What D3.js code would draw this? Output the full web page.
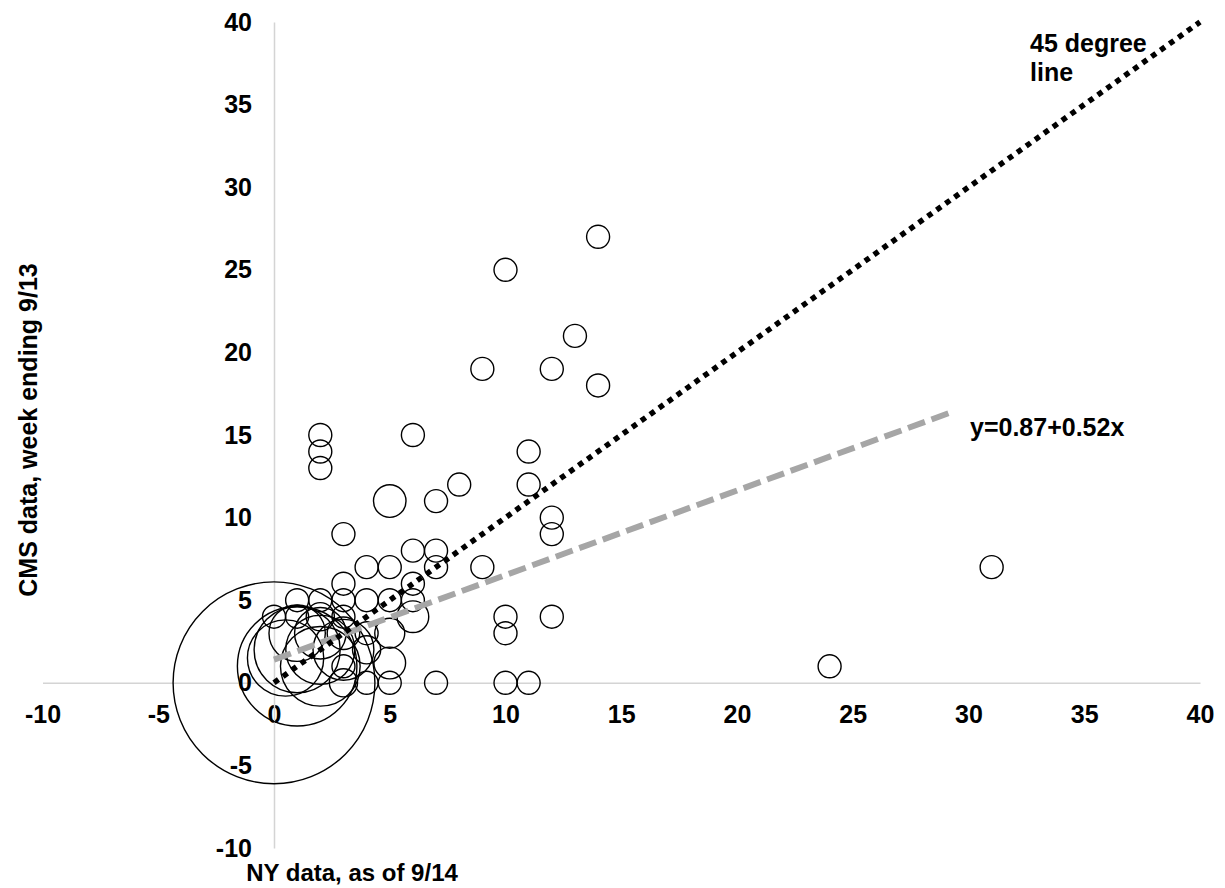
<!DOCTYPE html>
<html>
<head>
<meta charset="utf-8">
<script src="https://cdn.jsdelivr.net/npm/d3@7"></script>
<style>
  body { margin: 0; background: #fff; }
  text { font-family: "Liberation Sans", Arial, sans-serif; font-weight: bold; }
</style>
</head>
<body>
<script>
// bubble data: NY count, CMS count, relative bubble size
const nyValues  = [2, 2, 2, 6, 5, 7, 8, 3, 6, 7, 14, 10, 13, 9, 12, 14, 11, 11, 12, 12,
                   9, 7, 5, 4, 3, 6, 3, 4, 5, 6, 6, 5, 5, 10, 10, 12, 10, 11, 7, 5, 4, 4, 24, 31,
                   0, 1, 1, 2, 0.5, 2, 3, 1, 2, 3, 0, 1, 1, 2, 3, 2, 3, 4, 3];
const cmsValues = [15, 14, 13, 15, 11, 11, 12, 9, 8, 8, 27, 25, 21, 19, 19, 18, 14, 12, 10, 9,
                   7, 7, 7, 7, 6, 6, 5, 5, 5, 5, 4, 3, 1.2, 4, 3, 4, 0, 0, 0, 0, 0, 3, 1, 7,
                   0, 1, 2, 1, 1.5, 2, 2, 3, 3, 3, 4, 5, 4, 4, 4, 5, 1, 2, 0];
const sizes     = [1, 1, 1, 1, 2, 1, 1, 1, 1, 1, 1, 1, 1, 1, 1, 1, 1, 1, 1, 1,
                   1, 1, 1, 1, 1, 1, 1, 1, 1, 1, 1.9, 1.7, 1.9, 1, 1, 1, 1, 1, 1, 1, 1, 1, 1, 1,
                   77, 27, 14, 12, 11, 9, 7, 6, 5, 2, 1, 1, 1, 1.5, 1, 1, 1, 1.5, 1.5];

const tickValues = [-10, -5, 0, 5, 10, 15, 20, 25, 30, 35, 40];
const diagonal = [[0, 0], [40, 40]];
const trendline = [[0, 1.4], [29.3, 16.4]];

const width = 1225, height = 888;

const svg = d3.select('body')
    .append('svg')
    .attr('width', width)
    .attr('height', height);

const xScale = d3.scaleLinear().domain([-10, 40]).range([42.5, 1200]);
const yScale = d3.scaleLinear().domain([-10, 40]).range([848, 22]);
const rScale = d3.scaleSqrt().domain([0, 1]).range([0, 11.5]);

// axes cross at zero, plain hyphen for negatives
const xAxis = svg.append('g')
    .attr('transform', `translate(0, ${yScale(0)})`)
    .call(d3.axisBottom(xScale).tickValues(tickValues).tickFormat(d => String(d))
      .tickSize(0).tickPadding(22));

const yAxis = svg.append('g')
    .attr('transform', `translate(${xScale(0)}, 0)`)
    .call(d3.axisLeft(yScale).tickValues(tickValues).tickFormat(d => String(d))
      .tickSize(0).tickPadding(22));

[xAxis, yAxis].forEach(ax => {
  ax.select('.domain').attr('stroke', '#d4d4d4').attr('stroke-width', 1.5);
  ax.selectAll('text').attr('font-size', 25).attr('fill', '#000')
    .style('font-family', '"Liberation Sans", Arial, sans-serif').style('font-weight', 'bold');
});

const points = nyValues.map((d, i) => ({x: d, y: cmsValues[i], s: sizes[i]}));

svg.append('g').selectAll('circle')
    .data(points)
    .enter()
    .append('circle')
    .attr('cx', d => xScale(d.x))
    .attr('cy', d => yScale(d.y))
    .attr('r', d => rScale(d.s))
    .attr('fill', 'none')
    .attr('stroke', '#000')
    .attr('stroke-width', 1.4);

const line = d3.line().x(d => xScale(d[0])).y(d => yScale(d[1]));

svg.append('path')
    .attr('d', line(trendline))
    .attr('fill', 'none')
    .attr('stroke', '#a6a6a6')
    .attr('stroke-width', 6)
    .attr('stroke-dasharray', '18 7');

svg.append('path')
    .attr('d', line(diagonal))
    .attr('fill', 'none')
    .attr('stroke', '#000')
    .attr('stroke-width', 5.5)
    .attr('stroke-dasharray', '5.5 5.5');

// annotations
svg.append('text').attr('x', 1030).attr('y', 52).attr('font-size', 25).text('45 degree');
svg.append('text').attr('x', 1030).attr('y', 81).attr('font-size', 25).text('line');
svg.append('text').attr('x', 970).attr('y', 436).attr('font-size', 25).text('y=0.87+0.52x');

// axis titles
svg.append('text')
    .attr('x', 352).attr('y', 881)
    .attr('text-anchor', 'middle')
    .attr('font-size', 24)
    .text('NY data, as of 9/14');

svg.append('text')
    .attr('transform', 'translate(37, 430) rotate(-90)')
    .attr('text-anchor', 'middle')
    .attr('font-size', 25)
    .text('CMS data, week ending 9/13');
</script>
</body>
</html>
